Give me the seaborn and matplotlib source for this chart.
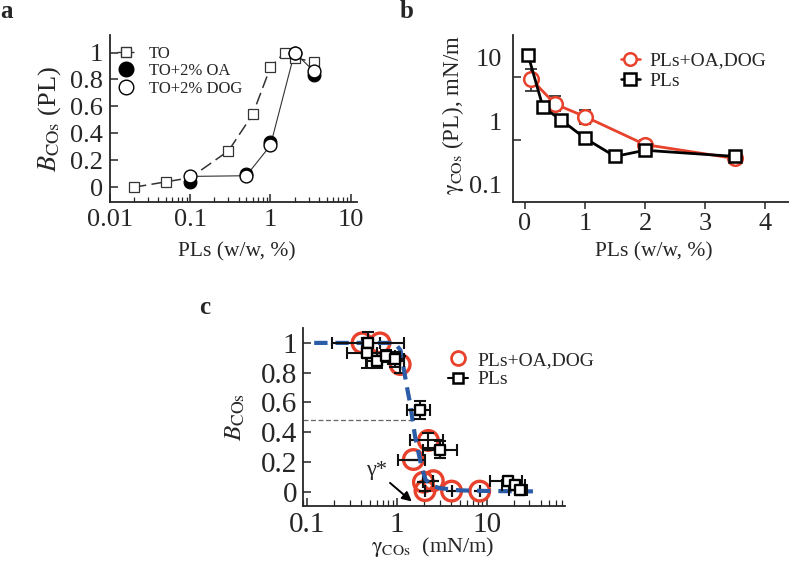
import numpy as np
import pandas as pd
import matplotlib
matplotlib.use("Agg")
import matplotlib.pyplot as plt
import seaborn as sns
from matplotlib.lines import Line2D
from matplotlib.ticker import FixedLocator, NullFormatter, LogLocator

# ---------------- Panel a data ----------------
a_to_x = [0.02, 0.05, 0.1, 0.3, 0.6, 1.0, 1.5, 2.0, 3.5]
a_to_y = [0.00, 0.04, 0.07, 0.27, 0.54, 0.89, 1.00, 0.96, 0.93]
a_oa_x = [0.1, 0.5, 1.0, 2.0, 3.5]
a_oa_y = [0.04, 0.095, 0.335, 1.00, 0.83]
a_dog_x = [0.1, 0.5, 1.0, 2.0, 3.5]
a_dog_y = [0.08, 0.085, 0.31, 1.00, 0.86]
a_xticks = [0.01, 0.1, 1, 10]
a_xticklabels = ["0.01", "0.1", "1", "10"]
a_yticks = [0, 0.2, 0.4, 0.6, 0.8, 1.0]
a_yticklabels = ["0", "0.2", "0.4", "0.6", "0.8", "1"]

# ---------------- Panel b data ----------------
b_red_x = [0.1, 0.5, 1.0, 2.0, 3.5]
b_red_y = [4.6, 1.86, 1.18, 0.43, 0.26]
b_red_elo = [1.6, 0.40, 0.27, 0.05, 0.03]
b_red_ehi = [2.1, 0.60, 0.34, 0.08, 0.03]
b_blk_x = [0.05, 0.3, 0.6, 1.0, 1.5, 2.0, 3.5]
b_blk_y = [11.0, 1.66, 1.05, 0.54, 0.28, 0.35, 0.28]
b_blk_elo = [0.0, 0.10, 0.22, 0.06, 0.02, 0.04, 0.03]
b_blk_ehi = [0.0, 0.10, 0.10, 0.06, 0.02, 0.04, 0.03]
b_xticks = [0, 1, 2, 3, 4]
b_yticks = [0.1, 1, 10]
b_yticklabels = ["0.1", "1", "10"]
b_yminor = [0.5, 5]

# ---------------- Panel c data ----------------
c_red_x = [0.41, 0.65, 1.09, 2.25, 1.53, 1.98, 2.55, 2.06, 4.08, 8.4]
c_red_y = [1.00, 1.00, 0.855, 0.345, 0.217, 0.065, 0.075, 0.008, 0.005, 0.005]
c_red_xlo = [0.41, 0.65, 1.09, 1.40, 1.04, 1.98, 2.55, 2.06, 4.08, 8.4]
c_red_xhi = [0.41, 0.65, 1.09, 3.30, 2.06, 1.98, 2.55, 2.06, 4.08, 8.4]
c_red_yerr = [0, 0, 0.06, 0.05, 0, 0, 0, 0, 0, 0]

c_blk_x = [0.48, 0.47, 0.60, 0.75, 0.96, 1.81, 3.03, 17.5, 21.0, 23.5]
c_blk_y = [1.00, 0.93, 0.88, 0.91, 0.89, 0.548, 0.284, 0.07, 0.045, 0.012]
c_blk_xlo = [0.19, 0.28, 0.45, 0.60, 0.80, 1.29, 1.98, 10.9, 15.0, 18.0]
c_blk_xhi = [1.20, 0.60, 1.20, 0.95, 1.20, 2.34, 4.64, 25.0, 27.0, 28.5]
c_blk_yerr = [0.07, 0.10, 0.05, 0.04, 0.05, 0.06, 0.055, 0.03, 0.03, 0.03]

c_fit_x = [0.12, 0.5, 0.95, 1.1, 1.2, 1.3, 1.4, 1.5, 1.6, 1.75, 1.9, 2.1, 2.5, 3.0, 5.0, 10.0, 20.0, 39.0]
c_fit_y = [1.0, 1.0, 1.0, 0.95, 0.82, 0.70, 0.60, 0.48, 0.37, 0.26, 0.16, 0.08, 0.04, 0.025, 0.01, 0.006, 0.004, 0.003]
c_ref_y = 0.485
c_ref_xend = 1.5
c_star_text = (0.60, 0.14)
c_arrow_from = (0.84, 0.06)
c_arrow_to = (1.47, -0.065)
c_xticks = [0.1, 1, 10]
c_xticklabels = ["0.1", "1", "10"]
c_yticks = [0, 0.2, 0.4, 0.6, 0.8, 1.0]
c_yticklabels = ["0", "0.2", "0.4", "0.6", "0.8", "1"]

# ---------------- style ----------------
sns.set_theme(style="ticks")
plt.rcParams['font.family'] = ['Liberation Serif', 'DejaVu Serif']
plt.rcParams['mathtext.fontset'] = 'stix'
plt.rcParams['axes.linewidth'] = 1.3

W, H = 789, 562
fig = plt.figure(figsize=(W / 100, H / 100), dpi=100)


def axes_px(l, t, r, b):
    return fig.add_axes([l / W, 1 - b / H, (r - l) / W, (b - t) / H])


axA = axes_px(110, 35, 357, 202)
axB = axes_px(513, 35, 789, 202)
axC = axes_px(303, 328, 565, 506)

# ================= Panel a =================
axA.set_xscale('log')
sns.lineplot(x=a_to_x, y=a_to_y, ax=axA, color='#333333', lw=1.1, estimator=None,
             sort=False, marker='s', markersize=6.5, markerfacecolor='white',
             markeredgecolor='#333333', markeredgewidth=0.9, zorder=3)
axA.lines[-1].set_dashes([8, 3.5])
sns.lineplot(x=a_dog_x, y=a_dog_y, ax=axA, color='#333333', lw=0.8, estimator=None,
             sort=False, zorder=2)
sns.scatterplot(x=a_oa_x, y=a_oa_y, ax=axA, color='black', s=85, marker='o',
                edgecolor='black', linewidth=0.8, zorder=4)
sns.scatterplot(x=a_dog_x, y=a_dog_y, ax=axA, facecolor='white', s=85, marker='o',
                edgecolor='black', linewidth=1.0, zorder=5)
axA.set_xlim(0.01, 12)
axA.set_ylim(-0.11, 1.13)
axA.set_xticks(a_xticks)
axA.set_xticklabels(a_xticklabels)
axA.xaxis.set_minor_locator(LogLocator(base=10, subs=np.arange(2, 10)))
axA.xaxis.set_minor_formatter(NullFormatter())
axA.set_yticks(a_yticks)
axA.set_yticklabels(a_yticklabels)
axA.tick_params(which='major', direction='in', length=6, width=1.1, labelsize=19, pad=5)
axA.tick_params(which='minor', direction='in', length=3.5, width=0.9)
sns.despine(ax=axA)
axA.set_xlabel("PLs (w/w, %)", fontsize=15.5)
axA.set_ylabel(r"$B_{\mathrm{COs}}$ (PL)", fontsize=19)
axA.xaxis.set_label_coords(0.514, -0.24)
axA.yaxis.set_label_coords(-0.19, 0.5)
hA = [
    Line2D([0], [0], color='#333333', lw=1.0, marker='s', markersize=6.5,
           markerfacecolor='white', markeredgecolor='#333333', dashes=[3, 2]),
    Line2D([0], [0], color='black', lw=0, marker='o', markersize=10.5,
           markerfacecolor='black', markeredgecolor='black'),
    Line2D([0], [0], color='black', lw=0, marker='o', markersize=10.5,
           markerfacecolor='white', markeredgecolor='black'),
]
axA.legend(hA, ["TO", "TO+2% OA", "TO+2% DOG"], loc='upper left',
           bbox_to_anchor=(0.03, 0.935), frameon=False, fontsize=12,
           handlelength=1.0, handletextpad=0.9, labelspacing=0.08, borderpad=0,
           borderaxespad=0)

# ================= Panel b =================
axB.set_yscale('log')
axB.errorbar(b_red_x, b_red_y, yerr=[b_red_elo, b_red_ehi], fmt='none', ecolor='#222222',
             elinewidth=1.2, capsize=4, capthick=1.2, zorder=2)
axB.errorbar(b_blk_x, b_blk_y, yerr=[b_blk_elo, b_blk_ehi], fmt='none', ecolor='#222222',
             elinewidth=1.2, capsize=4, capthick=1.2, zorder=2)
sns.lineplot(x=b_red_x, y=b_red_y, ax=axB, color='#e8412c', lw=2.0, estimator=None,
             sort=False, marker='o', markersize=10.5, markerfacecolor='white',
             markeredgecolor='#e8412c', markeredgewidth=1.8, zorder=3)
sns.lineplot(x=b_blk_x, y=b_blk_y, ax=axB, color='black', lw=2.0, estimator=None,
             sort=False, marker='s', markersize=9, markerfacecolor='white',
             markeredgecolor='black', markeredgewidth=1.8, zorder=4)
axB.set_xlim(-0.2, 4.4)
axB.set_ylim(0.054, 22.5)
axB.set_xticks(b_xticks)
axB.set_yticks(b_yticks)
axB.set_yticklabels(b_yticklabels)
axB.yaxis.set_minor_locator(FixedLocator(b_yminor))
axB.yaxis.set_minor_formatter(NullFormatter())
axB.tick_params(axis='x', which='major', direction='out', length=5, width=1.1,
                labelsize=19, pad=3)
axB.tick_params(axis='y', which='major', length=0, labelsize=19, pad=8)
axB.tick_params(axis='y', which='minor', direction='in', length=6, width=1.1)
sns.despine(ax=axB)
axB.set_xlabel("PLs (w/w, %)", fontsize=15.5)
axB.set_ylabel(r"$\mathrm{\gamma}_{\mathrm{COs}}$ (PL), mN/m", fontsize=16.5)
axB.xaxis.set_label_coords(0.51, -0.24)
axB.yaxis.set_label_coords(-0.17, 0.52)
hB = [
    Line2D([0], [0], color='#e8412c', lw=1.8, marker='o', markersize=9,
           markerfacecolor='white', markeredgecolor='#e8412c', markeredgewidth=1.8),
    Line2D([0], [0], color='black', lw=1.8, marker='s', markersize=8,
           markerfacecolor='white', markeredgecolor='black', markeredgewidth=1.8),
]
axB.legend(hB, ["PLs+OA,DOG", "PLs"], loc='upper left', bbox_to_anchor=(0.39, 0.90),
           frameon=False, fontsize=14, handlelength=1.0, handletextpad=0.5,
           labelspacing=0.15, borderpad=0, borderaxespad=0)

# ================= Panel c =================
axC.set_xscale('log')
c_red_xerr = [np.array(c_red_x) - np.array(c_red_xlo), np.array(c_red_xhi) - np.array(c_red_x)]
c_blk_xerr = [np.array(c_blk_x) - np.array(c_blk_xlo), np.array(c_blk_xhi) - np.array(c_blk_x)]
sns.scatterplot(x=c_red_x, y=c_red_y, ax=axC, facecolor='none', edgecolor='#e8412c',
                s=200, linewidth=2.4, marker='o', zorder=2)
axC.errorbar(c_red_x, c_red_y, xerr=c_red_xerr, yerr=c_red_yerr, fmt='none',
             ecolor='#111111', elinewidth=1.5, capsize=4, capthick=1.5, zorder=3)
sns.lineplot(x=c_fit_x, y=c_fit_y, ax=axC, color='#2b5ca8', lw=3.0, estimator=None,
             sort=False, zorder=4)
axC.lines[-1].set_dashes([3.2, 1.9])
axC.errorbar(c_blk_x, c_blk_y, xerr=c_blk_xerr, yerr=c_blk_yerr, fmt='none',
             ecolor='#111111', elinewidth=1.5, capsize=4, capthick=1.5, zorder=5)
sns.scatterplot(x=c_blk_x, y=c_blk_y, ax=axC, facecolor='white', edgecolor='black',
                s=60, linewidth=1.7, marker='s', zorder=6)
axC.set_xlim(0.09, 75)
axC.set_ylim(-0.095, 1.10)
axC.hlines(c_ref_y, 0.09, c_ref_xend, colors='#666666', linestyles=(0, (4, 2)),
           lw=0.9, zorder=1)
axC.annotate("", xy=c_arrow_to, xytext=c_arrow_from,
             arrowprops=dict(arrowstyle='-|>', color='black', lw=1.4,
                             mutation_scale=14, shrinkA=0, shrinkB=0))
axC.text(c_star_text[0], c_star_text[1], "γ*", fontsize=16, ha='center', va='center')
axC.set_xticks(c_xticks)
axC.set_xticklabels(c_xticklabels)
axC.xaxis.set_minor_locator(LogLocator(base=10, subs=np.arange(2, 10)))
axC.xaxis.set_minor_formatter(NullFormatter())
axC.set_yticks(c_yticks)
axC.set_yticklabels(c_yticklabels)
axC.tick_params(which='major', direction='in', length=6, width=1.1, labelsize=21, pad=4)
axC.tick_params(which='minor', direction='in', length=4, width=0.9)
sns.despine(ax=axC)
axC.set_xlabel(r"$\mathrm{\gamma}_{\mathrm{COs}}$  (mN/m)", fontsize=16)
axC.set_ylabel(r"$B_{\mathrm{COs}}$", fontsize=18)
axC.xaxis.set_label_coords(0.496, -0.165)
axC.yaxis.set_label_coords(-0.215, 0.5)
hC = [
    Line2D([0], [0], color='#e8412c', lw=0, marker='o', markersize=10,
           markerfacecolor='white', markeredgecolor='#e8412c', markeredgewidth=2.0),
    Line2D([0], [0], color='black', lw=1.5, marker='s', markersize=7,
           markerfacecolor='white', markeredgecolor='black', markeredgewidth=1.8),
]
axC.legend(hC, ["PLs+OA,DOG", "PLs"], loc='upper left', bbox_to_anchor=(0.555, 0.87),
           frameon=False, fontsize=14, handlelength=1.0, handletextpad=0.5,
           labelspacing=0.1, borderpad=0, borderaxespad=0)

# panel letters
fig.text(0.0 / W, 1 - 0 / H, "a", fontsize=18, fontweight='bold', ha='left', va='top')
fig.text(400 / W, 1 - 0 / H, "b", fontsize=18, fontweight='bold', ha='left', va='top')
fig.text(199 / W, 1 - 296 / H, "c", fontsize=18, fontweight='bold', ha='left', va='top')

fig.savefig("out.png", dpi=100)
